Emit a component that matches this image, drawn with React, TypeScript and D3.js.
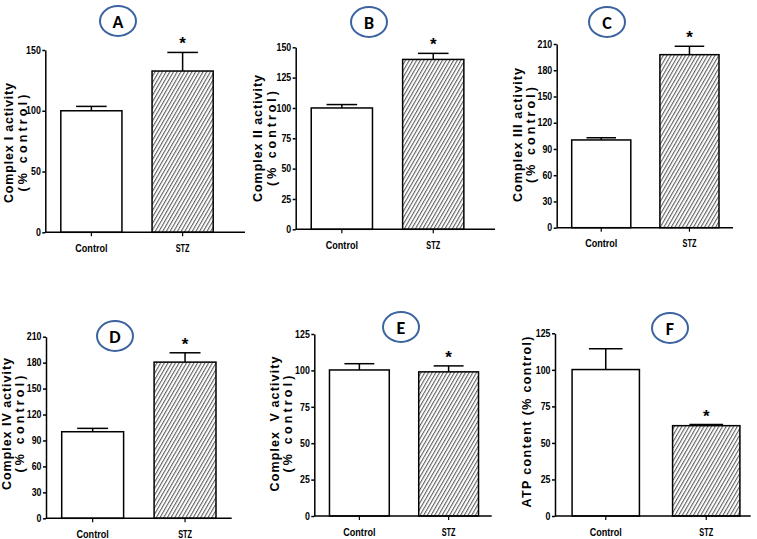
import { useEffect, useRef } from "react";
import * as d3 from "d3";

// Groups and per-panel values (% of control)
const groups = ["Control", "STZ"];
const panelLetters = ["A", "B", "C", "D", "E", "F"];
const yTitles = [
	["Complex I activity", "(% control)"],
	["Complex II activity", "(% control)"],
	["Complex III activity", "(% control)"],
	["Complex IV activity", "(% control)"],
	["Complex  V activity", "(% control)"],
	["ATP content (% control)"],
];
const yMaxValues = [150, 150, 210, 210, 125, 125];
const tickSteps = [50, 25, 30, 30, 25, 25];
const meanValues = [
	[100, 132.7],
	[100, 140],
	[100.3, 197.8],
	[100.1, 180.6],
	[100.3, 99],
	[100.2, 61.8],
];
const semValues = [
	[3.6, 15.3],
	[2.8, 5],
	[2.5, 9.6],
	[3.9, 10.8],
	[4.3, 4.1],
	[14.2, 0.8],
];
const significant = [
	[false, true],
	[false, true],
	[false, true],
	[false, true],
	[false, true],
	[false, true],
];

// Panel placement on the page (pixels); titleLen = drawn length of each title line
const layout = [
	{ left: 45.3, right: 228.7, axisEnd: 245, top: 50, bottom: 232.3, cx: 118, cy: 21, titleX: [9, 23], titleY: 143, titleLen: [120, 97] },
	{ left: 295.7, right: 479.4, axisEnd: 495, top: 47.3, bottom: 229.3, cx: 369, cy: 22, titleX: [258, 272], titleY: 138.5, titleLen: [127, 95] },
	{ left: 556.7, right: 734, axisEnd: 733, top: 44, bottom: 227.7, cx: 607, cy: 22, titleX: [518, 531], titleY: 135, titleLen: [134, 96] },
	{ left: 46, right: 231.7, axisEnd: 231.7, top: 336.7, bottom: 518.3, cx: 115, cy: 336, titleX: [7, 20], titleY: 424, titleLen: [132, 97] },
	{ left: 314.3, right: 493.7, axisEnd: 491.7, top: 334, bottom: 516, cx: 401, cy: 327, titleX: [275, 288], titleY: 424, titleLen: [135, 97] },
	{ left: 555, right: 757, axisEnd: 750.7, top: 333.3, bottom: 516, cx: 670, cy: 328, titleX: [527], titleY: 422, titleLen: [171] },
];

const W = 757;
const H = 539;
const sans = "'Liberation Sans', Arial, sans-serif";

export default function App() {
	const ref = useRef<SVGSVGElement>(null);

	useEffect(() => {
		const svg = d3.select(ref.current);
		svg.selectAll("*").remove();

		// Diagonal hatch for STZ bars
		const pattern = svg.append("defs")
			.append("pattern")
			.attr("id", "hatch")
			.attr("patternUnits", "userSpaceOnUse")
			.attr("width", 3.2)
			.attr("height", 8)
			.attr("patternTransform", "rotate(30)");
		pattern.append("rect").attr("width", 3.2).attr("height", 8).attr("fill", "#fff");
		pattern.append("line")
			.attr("x1", 0.6).attr("x2", 0.6)
			.attr("y1", 0).attr("y2", 8)
			.attr("stroke", "#333")
			.attr("stroke-width", 0.85);

		panelLetters.forEach((letter, i) => {
			const L = layout[i];
			const g = svg.append("g");

			const x = d3.scaleBand<string>()
				.domain(groups)
				.range([L.left, L.right])
				.paddingInner(0.33)
				.paddingOuter(0.17);

			const y = d3.scaleLinear()
				.domain([0, yMaxValues[i]])
				.range([L.bottom, L.top]);

			// Bars
			groups.forEach((grp, j) => {
				const v = meanValues[i][j];
				const e = semValues[i][j];
				const cx = x(grp)! + x.bandwidth() / 2;
				const capW = x.bandwidth() / 2;

				// error bar (upper only)
				g.append("line")
					.attr("x1", cx).attr("x2", cx)
					.attr("y1", y(v)).attr("y2", y(v + e))
					.attr("stroke", "#000").attr("stroke-width", 1.5);
				g.append("line")
					.attr("x1", cx - capW / 2).attr("x2", cx + capW / 2)
					.attr("y1", y(v + e)).attr("y2", y(v + e))
					.attr("stroke", "#000").attr("stroke-width", 1.5);

				g.append("rect")
					.attr("x", x(grp)!)
					.attr("y", y(v))
					.attr("width", x.bandwidth())
					.attr("height", y(0) - y(v))
					.attr("fill", j === 1 ? "url(#hatch)" : "#fff")
					.attr("stroke", "#000")
					.attr("stroke-width", 1.5);

				if (significant[i][j]) {
					g.append("text")
						.attr("x", cx)
						.attr("y", y(v + e) - 3)
						.attr("text-anchor", "middle")
						.attr("font-family", sans)
						.attr("font-weight", "bold")
						.attr("font-size", "17px")
						.text("*");
				}
			});

			// Y axis
			const yAxis = g.append("g")
				.attr("transform", `translate(${L.left},0)`)
				.call(
					d3.axisLeft(y)
						.tickValues(d3.range(0, yMaxValues[i] + 1, tickSteps[i]))
						.tickSize(3)
						.tickPadding(1.5)
						.tickSizeOuter(0)
				);
			yAxis.selectAll("path, line").attr("stroke", "#000").attr("stroke-width", 1.5);
			yAxis.selectAll<SVGTextElement, number>("text")
				.attr("font-family", sans)
				.attr("font-weight", "bold")
				.attr("font-size", "10px")
				.attr("fill", "#000")
				.attr("textLength", d => String(d).length * 4.9)
				.attr("lengthAdjust", "spacingAndGlyphs");

			// X axis baseline + ticks
			g.append("line")
				.attr("x1", L.left).attr("x2", L.axisEnd)
				.attr("y1", L.bottom).attr("y2", L.bottom)
				.attr("stroke", "#000").attr("stroke-width", 1.5);
			groups.forEach(grp => {
				const cx = x(grp)! + x.bandwidth() / 2;
				g.append("line")
					.attr("x1", cx).attr("x2", cx)
					.attr("y1", L.bottom).attr("y2", L.bottom + 4)
					.attr("stroke", "#000").attr("stroke-width", 1.2);
				g.append("text")
					.attr("x", cx)
					.attr("y", L.bottom + 16)
					.attr("text-anchor", "middle")
					.attr("dominant-baseline", "central")
					.attr("font-family", sans)
					.attr("font-weight", "bold")
					.attr("font-size", "10px")
					.attr("textLength", grp.length * 4.6)
					.attr("lengthAdjust", "spacingAndGlyphs")
					.text(grp);
			});

			// Y title
			yTitles[i].forEach((line, k) => {
				g.append("text")
					.attr("transform", `translate(${L.titleX[k]},${L.titleY}) rotate(-90)`)
					.attr("text-anchor", "middle")
					.attr("dominant-baseline", "central")
					.attr("font-family", sans)
					.attr("font-weight", "bold")
					.attr("font-size", "12.5px")
					.attr("textLength", L.titleLen[k])
					.attr("lengthAdjust", "spacing")
					.style("white-space", "pre")
					.text(line);
			});

			// Panel letter badge
			g.append("ellipse")
				.attr("cx", L.cx).attr("cy", L.cy)
				.attr("rx", 18).attr("ry", 15)
				.attr("fill", "#fff")
				.attr("stroke", "#3b64a0")
				.attr("stroke-width", 2);
			g.append("text")
				.attr("x", L.cx).attr("y", L.cy + 1)
				.attr("text-anchor", "middle")
				.attr("dominant-baseline", "central")
				.attr("font-family", "Carlito, 'Open Sans', sans-serif")
				.attr("font-weight", "bold")
				.attr("font-size", "18px")
				.text(letter);
		});
	}, []);

	return (
		<svg
			ref={ref}
			width={W}
			height={H}
			style={{ position: "absolute", left: 0, top: 0, background: "#fff" }}
		/>
	);
}
